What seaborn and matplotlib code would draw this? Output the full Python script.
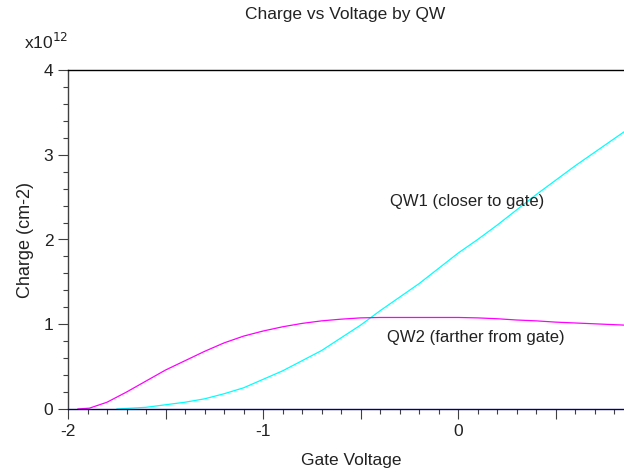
import numpy as np
import pandas as pd
import matplotlib
matplotlib.use("Agg")
import matplotlib.pyplot as plt
from matplotlib.ticker import MultipleLocator, FuncFormatter
import seaborn as sns

# Gate voltage sweep and sheet charge (units of 1e12 cm^-2)
qw1_v = [-1.75, -1.6, -1.5, -1.4, -1.3, -1.2, -1.1, -1.0, -0.9, -0.8, -0.7,
         -0.6, -0.5, -0.4, -0.3, -0.2, -0.1, 0.0, 0.1, 0.2, 0.3, 0.4, 0.5,
         0.6, 0.7, 0.85]
qw1_q = [0.0, 0.02, 0.05, 0.08, 0.12, 0.18, 0.25, 0.35, 0.45, 0.57, 0.69,
         0.84, 0.99, 1.16, 1.32, 1.48, 1.66, 1.84, 2.00, 2.17, 2.35, 2.53,
         2.70, 2.87, 3.03, 3.27]

qw2_v = [-1.95, -1.89, -1.8, -1.7, -1.6, -1.5, -1.4, -1.3, -1.2, -1.1, -1.0,
         -0.9, -0.8, -0.7, -0.6, -0.5, -0.4, -0.3, -0.2, -0.1, 0.0, 0.1, 0.2,
         0.3, 0.4, 0.5, 0.6, 0.7, 0.85]
qw2_q = [0.0, 0.01, 0.08, 0.20, 0.33, 0.46, 0.57, 0.68, 0.78, 0.86, 0.92,
         0.97, 1.01, 1.04, 1.06, 1.075, 1.08, 1.08, 1.08, 1.08, 1.08, 1.075,
         1.065, 1.05, 1.04, 1.025, 1.015, 1.005, 0.99]

series_names = ["QW1 (closer to gate)", "QW2 (farther from gate)"]

df = pd.concat([
    pd.DataFrame({"Gate Voltage": qw1_v, "Charge": qw1_q, "QW": series_names[0]}),
    pd.DataFrame({"Gate Voltage": qw2_v, "Charge": qw2_q, "QW": series_names[1]}),
])

sns.set_style("ticks")
plt.rcParams["font.family"] = ["Liberation Sans", "DejaVu Sans"]

fig = plt.figure(figsize=(6.24, 4.73), dpi=100)
ax = fig.add_axes([68 / 624, 1 - 409 / 473, 1 - 68 / 624, (409 - 70) / 473])

sns.lineplot(data=df, x="Gate Voltage", y="Charge", hue="QW",
             palette={series_names[0]: "#00FFFF", series_names[1]: "#FF00FF"},
             linewidth=0.9, legend=False, ax=ax, sort=False)

ax.set_xlim(-2, 0.85)
ax.set_ylim(0, 4)

ax.xaxis.set_major_locator(MultipleLocator(0.5))
ax.xaxis.set_minor_locator(MultipleLocator(0.1))
ax.yaxis.set_major_locator(MultipleLocator(1))
ax.yaxis.set_minor_locator(MultipleLocator(0.2))


def int_only(v, pos):
    return f"{v:.0f}" if abs(v - round(v)) < 1e-6 else ""


ax.xaxis.set_major_formatter(FuncFormatter(int_only))
ax.yaxis.set_major_formatter(FuncFormatter(int_only))

ax.tick_params(axis="both", which="major", length=7, width=0.8,
               color="#404040", labelsize=12.5, labelcolor="#222222", direction="out")
ax.tick_params(axis="both", which="minor", length=3.5, width=0.8,
               color="#404040", direction="out")
ax.tick_params(axis="x", which="major", pad=4)

ax.spines["right"].set_visible(False)
ax.spines["top"].set_color("black")
ax.spines["left"].set_color("#404040")
ax.spines["bottom"].set_color("#000080")
for s in ("top", "left", "bottom"):
    ax.spines[s].set_linewidth(1.0)

ax.set_xlabel("Gate Voltage", fontsize=12.5, color="#222222", va="center")
ax.set_ylabel("Charge (cm-2)", fontsize=13, color="#222222", va="center")
ax.xaxis.set_label_coords((351 - 68) / (624 - 68), -(460 - 409) / (409 - 70))
ax.yaxis.set_label_coords(-(68 - 25) / (624 - 68), (409 - 240) / (409 - 70))

fig.text(345 / 624, 1 - 14 / 473, "Charge vs Voltage by QW", ha="center", va="center",
         fontsize=12.5, color="#222222")
fig.text(24 / 624, 1 - 42 / 473, r"x10$^{12}$", ha="left", va="center",
         fontsize=12.5, color="#222222")

ax.text(-0.35, 2.45, series_names[0], fontsize=12, color="#222222", va="center", ha="left")
ax.text(-0.365, 0.84, series_names[1], fontsize=12, color="#222222", va="center", ha="left")

fig.savefig("out.png", dpi=100)
